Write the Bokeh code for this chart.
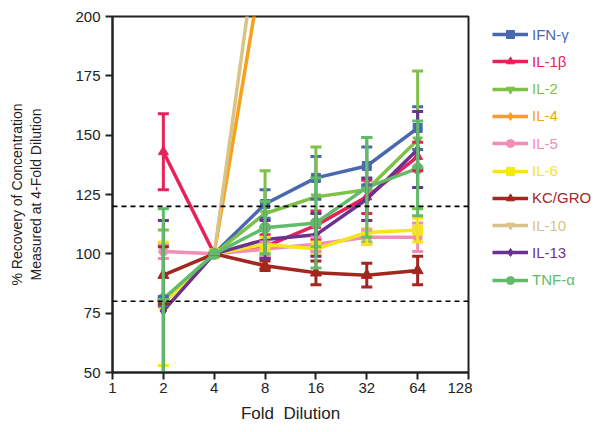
from bokeh.plotting import figure
from bokeh.layouts import row
from bokeh.models import (ColumnDataSource, Whisker, TeeHead, Span, FixedTicker,
                          Legend, LegendItem)
from bokeh.embed import file_html
from bokeh.resources import INLINE

nan = float("nan")

folds = [2, 4, 8, 16, 32, 64]
x_ticks = [1, 2, 4, 8, 16, 32, 64, 128]
y_ticks = [50, 75, 100, 125, 150, 175, 200]

names = ["IFN-γ", "IL-1β", "IL-2", "IL-4", "IL-5", "IL-6", "KC/GRO", "IL-10", "IL-13", "TNF-α"]

ifn = [80, 100, 121, 132, 137, 153]
ifn_err = [2, 0, 6, 9, 8, 9]
il1b = [143, 100, 103, 112, 124, 141]
il1b_err = [16, 0, 5, 6, 7, 6]
il2 = [80, 100, 117, 124, 127, 148]
il2_err = [30, 0, 18, 21, 22, 29]
il4 = [nan, 100, 228, nan, nan, nan]
il4_err = [0, 0, 0, 0, 0, 0]
il5 = [101, 100, 102, 104, 107, 107]
il5_err = [3, 0, 3, 3, 3, 6]
il6 = [79, 100, 104, 102, 109, 110]
il6_err = [26, 0, 3, 3, 5, 5]
kc = [91, 100, 95, 92, 91, 93]
kc_err = [12, 0, 2, 5, 5, 6]
il10 = [nan, 100, 255, nan, nan, nan]
il10_err = [0, 0, 0, 0, 0, 0]
il13 = [76, 100, 106, 108, 123, 144]
il13_err = [38, 0, 8, 9, 9, 16]
tnf = [81, 100, 111, 113, 128, 136]
tnf_err = [38, 0, 11, 19, 21, 20]

values = [ifn, il1b, il2, il4, il5, il6, kc, il10, il13, tnf]
errors = [ifn_err, il1b_err, il2_err, il4_err, il5_err, il6_err, kc_err, il10_err, il13_err, tnf_err]
colors = ["#4A68B0", "#E5235A", "#7DC146", "#F7A11A", "#F38DB6", "#F4E61C",
          "#A3271F", "#D8C486", "#6A3390", "#62BB6A"]
markers = ["square", "triangle", "inverted_triangle", "diamond", "circle", "square",
           "triangle", "inverted_triangle", "diamond", "circle"]
msizes = [9, 10, 10, 8, 9, 10, 11, 10, 10, 11]

FONT = "Liberation Sans, Arial, sans-serif"
INK = "#222222"

p = figure(width=472, height=432, x_axis_type="log", x_range=(1, 128), y_range=(50, 200),
           output_backend="svg", toolbar_location=None,
           min_border_left=112, min_border_right=4, min_border_top=16, min_border_bottom=60)
p.background_fill_color = "white"
p.border_fill_color = "white"
p.grid.visible = False
p.outline_line_color = INK
p.outline_line_width = 2

p.xaxis.ticker = FixedTicker(ticks=x_ticks)
p.xaxis.major_label_overrides = {t: str(t) for t in x_ticks}
p.yaxis.ticker = FixedTicker(ticks=y_ticks)
for ax in (p.xaxis, p.yaxis):
    ax.axis_line_color = INK
    ax.axis_line_width = 2
    ax.major_tick_line_color = INK
    ax.major_tick_line_width = 2
    ax.major_tick_out = 7
    ax.major_tick_in = 0
    ax.minor_tick_out = 0
    ax.minor_tick_in = 0
    ax.major_label_text_font = FONT
    ax.major_label_text_font_size = "15px"
    ax.major_label_text_color = INK
    ax.axis_label_text_font = FONT
    ax.axis_label_text_font_style = "normal"
    ax.axis_label_text_color = INK
p.xaxis.axis_label = "Fold\u00a0\u00a0Dilution"
p.xaxis.axis_label_text_font_size = "17px"
p.yaxis.axis_label = "% Recovery of Concentration\nMeasured at 4-Fold Dilution"
p.yaxis.axis_label_text_font_size = "14px"
p.xaxis.major_label_standoff = 3
p.yaxis.major_label_standoff = 5
p.yaxis.axis_label_standoff = 28
p.xaxis.axis_label_standoff = 8

for lvl in (120, 80):
    p.add_layout(Span(location=lvl, dimension="width", line_color="black",
                      line_dash="5 4", line_width=1.6))

sources = []
for name, vals, err, col, mk, ms in zip(names, values, errors, colors, markers, msizes):
    lo = [v - e for v, e in zip(vals, err)]
    hi = [v + e for v, e in zip(vals, err)]
    src = ColumnDataSource(dict(x=folds, y=vals, lo=lo, hi=hi))
    sources.append(src)
    if any(e > 0 for e in err):
        w = Whisker(source=src, base="x", lower="lo", upper="hi", dimension="height",
                    line_color=col, line_width=3, level="glyph",
                    lower_head=TeeHead(size=11, line_color=col, line_width=3),
                    upper_head=TeeHead(size=11, line_color=col, line_width=3))
        p.add_layout(w)
    p.line("x", "y", source=src, line_color=col, line_width=3.5)
    p.scatter("x", "y", source=src, marker=mk, size=ms, fill_color=col, line_color=col)

# legend panel: a separate figure (its ranges keep the series out of view) with one
# small legend per entry so that every label gets its own colour
lg_fig = figure(width=122, height=432, x_range=(0, 1), y_range=(0, 1),
                output_backend="svg", toolbar_location=None, min_border=0)
lg_fig.axis.visible = False
lg_fig.grid.visible = False
lg_fig.outline_line_color = None
lg_fig.background_fill_color = "white"
lg_fig.border_fill_color = "white"

# the row aligns this figure's frame with the main frame (page y 16 .. 372)
frame_bottom = 372
first_center = 34
step = 27.3
for i, (name, src, col, mk, ms) in enumerate(zip(names, sources, colors, markers, msizes)):
    rl = lg_fig.line("x", "y", source=src, line_color=col, line_width=3.5)
    rp = lg_fig.scatter("x", "y", source=src, marker=mk, size=ms - 1,
                        fill_color=col, line_color=col)
    yc = frame_bottom - (first_center + i * step)
    lg = Legend(items=[LegendItem(label=name, renderers=[rl, rp], index=1)],
                location=(20, yc - 10), padding=0, margin=0, spacing=0,
                glyph_width=36, glyph_height=20, label_height=20, label_standoff=4,
                border_line_color=None, background_fill_alpha=0,
                label_text_color=col, label_text_font=FONT,
                label_text_font_size="15px", label_text_baseline="middle")
    lg_fig.add_layout(lg, "center")

layout = row(p, lg_fig, spacing=0)
open("out.html", "w").write(file_html(layout, INLINE))
